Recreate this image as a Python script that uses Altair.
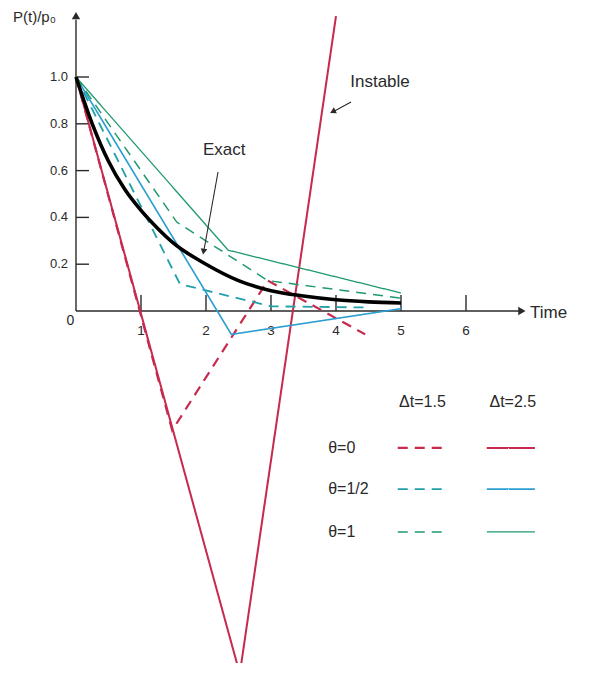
import altair as alt
import pandas as pd

FONT = "Liberation Sans"
INK = "#2a2a2a"

# ---------------- data ----------------
exact_t = [0, 0.25, 0.5, 0.75, 1.0, 1.25, 1.5, 2.0, 2.5, 3.0, 3.5, 4.0, 4.5, 5.0]
exact_p = [1.0, 0.80, 0.64, 0.52, 0.43, 0.355, 0.29, 0.20, 0.13, 0.087, 0.064, 0.048, 0.039, 0.034]

# theta = 0
th0_dt15_t = [0, 1.48, 2.95, 4.45]
th0_dt15_p = [1.0, -0.51, 0.13, -0.10]
th0_dt25_t = [0, 2.52, 4.0]
th0_dt25_p = [1.0, -1.55, 1.26]
# theta = 1/2
thh_dt15_t = [0, 1.6, 3.0, 4.5]
thh_dt15_p = [1.0, 0.115, 0.02, 0.015]
thh_dt25_t = [0, 2.39, 5.0]
thh_dt25_p = [1.0, -0.10, 0.01]
# theta = 1
th1_dt15_t = [0, 1.55, 2.95, 5.0]
th1_dt15_p = [1.0, 0.38, 0.13, 0.055]
th1_dt25_t = [0, 2.34, 5.0]
th1_dt25_p = [1.0, 0.26, 0.077]

series = ["th0_15", "th0_25", "thh_15", "thh_25", "th1_15", "th1_25"]
series_colors = ["#c62a4c", "#c62a4c", "#22a0aa", "#2c9fd2", "#1f9a6c", "#1f9a6c"]
series_dash = [[10, 7], [1, 0], [10, 7], [1, 0], [10, 7], [1, 0]]
series_width = [2.2, 1.3, 2.2, 1.3, 2.2, 1.3]

x_ticks = [1, 2, 3, 4, 5, 6]
x_tick_labels = ["1", "2", "3", "4", "5", "6"]
y_ticks = [0.2, 0.4, 0.6, 0.8, 1.0]
y_tick_labels = ["0.2", "0.4", "0.6", "0.8", "1.0"]

legend_rows = ["θ=0", "θ=1/2", "θ=1"]
legend_row_y = [-0.585, -0.761, -0.944]
legend_cols = ["Δt=1.5", "Δt=2.5"]
legend_col_x = [5.33, 6.72]
legend_header_y = -0.39
legend_label_x = 3.88
legend_dash_x = [4.95, 5.72]
legend_solid_x = [6.32, 7.06]

# ---------------- build tables ----------------
rows = []
for name, ts, ps in [
    ("th0_15", th0_dt15_t, th0_dt15_p),
    ("th0_25", th0_dt25_t, th0_dt25_p),
    ("thh_15", thh_dt15_t, thh_dt15_p),
    ("thh_25", thh_dt25_t, thh_dt25_p),
    ("th1_15", th1_dt15_t, th1_dt15_p),
    ("th1_25", th1_dt25_t, th1_dt25_p),
]:
    for i, (t, p) in enumerate(zip(ts, ps)):
        rows.append({"series": name, "t": t, "p": p, "idx": i})
lines_df = pd.DataFrame(rows)
exact_df = pd.DataFrame({"t": exact_t, "p": exact_p})

leg_rows = []
for i, ry in enumerate(legend_row_y):
    leg_rows.append({"series": series[2 * i], "x": legend_dash_x[0], "x2": legend_dash_x[1], "y": ry})
    leg_rows.append({"series": series[2 * i + 1], "x": legend_solid_x[0], "x2": legend_solid_x[1], "y": ry})
legend_df = pd.DataFrame(leg_rows)

xs = alt.Scale(domain=[-1.046, 7.8], nice=False, zero=False)
ys = alt.Scale(domain=[-1.5043, 1.2949], nice=False, zero=False)

def X(f):
    return alt.X(f, type="quantitative", scale=xs, axis=None)

def Y(f):
    return alt.Y(f, type="quantitative", scale=ys, axis=None)

color_enc = alt.Color("series:N", scale=alt.Scale(domain=series, range=series_colors), legend=None)
dash_enc = alt.StrokeDash("series:N", scale=alt.Scale(domain=series, range=series_dash), legend=None)
width_enc = alt.StrokeWidth("series:N", scale=alt.Scale(domain=series, range=series_width), legend=None)

# axes (drawn from data)
axis_df = pd.DataFrame([
    {"x": 0, "x2": 6.83, "y": 0, "y2": 0},
    {"x": 0, "x2": 0, "y": 0, "y2": 1.245},
])
xt_df = pd.DataFrame({"x": x_ticks, "x2": x_ticks, "y": [0] * 6, "y2": [0.068] * 6, "label": x_tick_labels, "ly": [-0.085] * 6})
yt_df = pd.DataFrame({"x": [0] * 5, "x2": [0.2] * 5, "y": y_ticks, "y2": y_ticks, "label": y_tick_labels, "lx": [-0.123] * 5})

axes = alt.Chart(axis_df).mark_rule(color=INK, strokeWidth=1.4).encode(x=X("x"), x2="x2", y=Y("y"), y2="y2")
xticks = alt.Chart(xt_df).mark_rule(color=INK, strokeWidth=1.4).encode(x=X("x"), x2="x2", y=Y("y"), y2="y2")
yticks = alt.Chart(yt_df).mark_rule(color=INK, strokeWidth=1.4).encode(x=X("x"), x2="x2", y=Y("y"), y2="y2")
xlabels = alt.Chart(xt_df).mark_text(font=FONT, fontSize=13.5, color=INK, align="center", baseline="middle").encode(
    x=X("x"), y=Y("ly"), text="label:N")
ylabels = alt.Chart(yt_df).mark_text(font=FONT, fontSize=13, color=INK, align="right", baseline="middle").encode(
    x=X("lx"), y=Y("y"), text="label:N")

arrow_df = pd.DataFrame([
    {"x": 6.86, "y": 0.0, "shape": "triangle-right"},
    {"x": 0.0, "y": 1.262, "shape": "triangle-up"},
])
axis_arrows = alt.Chart(arrow_df).mark_point(filled=True, color=INK, opacity=1, size=70).encode(
    x=X("x"), y=Y("y"), shape=alt.Shape("shape:N", scale=None))

# annotation arrows
ann_lines_df = pd.DataFrame([
    {"x": 2.185, "y": 0.594, "x2": 1.962, "y2": 0.25},
    {"x": 4.231, "y": 0.893, "x2": 3.95, "y2": 0.85},
])
ann_lines = alt.Chart(ann_lines_df).mark_rule(color=INK, strokeWidth=1.1).encode(
    x=X("x"), x2="x2", y=Y("y"), y2="y2")
ann_heads_df = pd.DataFrame([
    {"x": 1.965, "y": 0.258, "angle": 190},
    {"x": 3.963, "y": 0.854, "angle": 243},
])
ann_heads = alt.Chart(ann_heads_df).mark_point(filled=True, color=INK, opacity=1, size=45, shape="triangle").encode(
    x=X("x"), y=Y("y"), angle=alt.Angle("angle:Q", scale=None))

# texts
big_text_df = pd.DataFrame([
    {"x": 2.28, "y": 0.688, "label": "Exact"},
    {"x": 4.677, "y": 0.979, "label": "Instable"},
])
big_texts = alt.Chart(big_text_df).mark_text(font=FONT, fontSize=17, color=INK, align="center", baseline="middle").encode(
    x=X("x"), y=Y("y"), text="label:N")

left_text_df = pd.DataFrame([
    {"x": 6.985, "y": -0.009, "label": "Time", "fs": 17},
    {"x": -0.969, "y": 1.256, "label": "P(t)/p₀", "fs": 15},
] + [{"x": legend_label_x, "y": ry, "label": lab, "fs": 16} for lab, ry in zip(legend_rows, legend_row_y)])
left_texts = alt.Chart(left_text_df).mark_text(font=FONT, color=INK, align="left", baseline="middle").encode(
    x=X("x"), y=Y("y"), text="label:N", size=alt.Size("fs:Q", scale=None))

center_text_df = pd.DataFrame(
    [{"x": cx, "y": legend_header_y, "label": lab, "fs": 16} for lab, cx in zip(legend_cols, legend_col_x)]
    + [{"x": -0.085, "y": -0.043, "label": "0", "fs": 14}]
)
center_texts = alt.Chart(center_text_df).mark_text(font=FONT, color=INK, align="center", baseline="middle").encode(
    x=X("x"), y=Y("y"), text="label:N", size=alt.Size("fs:Q", scale=None))

# numerical solutions
num_lines = alt.Chart(lines_df).mark_line().encode(
    x=X("t"), y=Y("p"), color=color_enc, strokeDash=dash_enc, strokeWidth=width_enc,
    order=alt.Order("idx:Q"), detail="series:N")

exact_line = alt.Chart(exact_df).mark_line(color="#000000", strokeWidth=3.6, interpolate="monotone").encode(
    x=X("t"), y=Y("p"))

legend_lines = alt.Chart(legend_df).mark_rule().encode(
    x=X("x"), x2="x2", y=Y("y"), color=color_enc, strokeDash=dash_enc, strokeWidth=width_enc)

chart = alt.layer(
    axes, xticks, yticks, axis_arrows, xlabels, ylabels,
    num_lines, exact_line, legend_lines,
    ann_lines, ann_heads, big_texts, left_texts, center_texts,
).properties(
    width=575, height=655, padding=0, autosize=alt.AutoSizeParams(type="none"),
).configure_view(stroke=None)

chart.save("out.html", embed_options={"renderer": "svg", "actions": False})
